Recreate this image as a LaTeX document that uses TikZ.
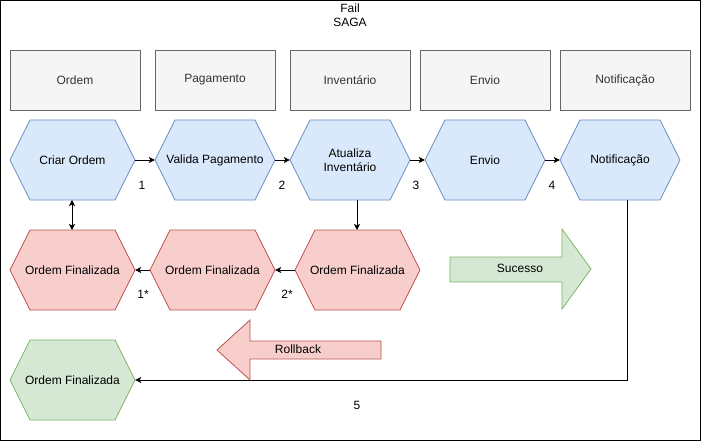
\documentclass[tikz,border=0pt]{standalone}
\usepackage{fontspec}
\setmainfont{Liberation Sans}
\usetikzlibrary{arrows.meta}
\definecolor{bluef}{HTML}{DAE8FC}
\definecolor{blued}{HTML}{6C8EBF}
\definecolor{redf}{HTML}{F8CECC}
\definecolor{redd}{HTML}{B85450}
\definecolor{greenf}{HTML}{D5E8D4}
\definecolor{greend}{HTML}{82B366}
\definecolor{grayf}{HTML}{F5F5F5}
\definecolor{grayd}{HTML}{666666}
\definecolor{grayt}{HTML}{333333}
\newcommand\hexn[7]{%
  \draw[#6] ({#2+20},#3) -- ({#4-20},#3) -- (#4,{(#3+#5)/2}) -- ({#4-20},#5) -- ({#2+20},#5) -- (#2,{(#3+#5)/2}) -- cycle;
  \node[inner sep=0pt, minimum width={(#4-#2)*1pt}, minimum height={(#5-#3)*1pt}, align=center] (#1) at ({(#2+#4)/2},{(#3+#5)/2}) {#7};
}
\tikzset{
  bluehex/.style={fill=bluef, draw=blued, line width=0.8pt},
  redhex/.style={fill=redf, draw=redd, line width=0.8pt},
  greenhex/.style={fill=greenf, draw=greend, line width=0.8pt},
  lane/.style={fill=grayf, draw=grayd, line width=0.8pt, text=grayt, inner sep=0pt},
  conn/.style={line width=0.8pt, -{Stealth[length=6pt,width=6pt,inset=1.5pt]}},
  num/.style={inner sep=0pt},
}
\begin{document}
\begin{tikzpicture}[x=1pt, y=-1pt, font=\fontsize{12}{14}\selectfont]
\useasboundingbox (0,0) rectangle (701,441);
\draw[line width=1pt] (0.5,0.5) rectangle (700,440);
\node[align=center, inner sep=0pt] (title) at (350,15) {Fail\\SAGA};
% lanes
\node[lane, minimum width=130pt, minimum height=60pt] (l1) at (75,80) {Ordem};
\node[lane, minimum width=120pt, minimum height=60pt] (l2) at (215,80) {Pagamento};
\node[lane, minimum width=120pt, minimum height=60pt] (l3) at (350,80) {Inventário};
\node[lane, minimum width=130pt, minimum height=60pt] (l4) at (485,80) {Envio};
\node[lane, minimum width=130pt, minimum height=60pt] (l5) at (625,80) {Notificação};
% row 1
\hexn{h1}{10}{120}{135}{200}{bluehex}{Criar Ordem}
\hexn{h2}{155}{120}{275}{200}{bluehex}{Valida Pagamento}
\hexn{h3}{290}{120}{410}{200}{bluehex}{Atualiza\\Inventário}
\hexn{h4}{425}{120}{545}{200}{bluehex}{Envio}
\hexn{h5}{560}{120}{680}{200}{bluehex}{Notificação}
% row 2
\hexn{r1}{10}{230}{135}{310}{redhex}{Ordem Finalizada}
\hexn{r2}{150}{230}{275}{310}{redhex}{Ordem Finalizada}
\hexn{r3}{295}{230}{420}{310}{redhex}{Ordem Finalizada}
% green
\hexn{g1}{10}{340}{135}{420}{greenhex}{Ordem Finalizada}
% connectors
\draw[conn] (h1.east) -- (h2.west);
\draw[conn] (h2.east) -- (h3.west);
\draw[conn] (h3.east) -- (h4.west);
\draw[conn] (h4.east) -- (h5.west);
\draw[conn, {Stealth[length=6pt,width=6pt,inset=1.5pt]}-{Stealth[length=6pt,width=6pt,inset=1.5pt]}] (72,200) -- (72,230);
\draw[conn] (357,200) -- (357,230);
\draw[conn] (r3.west) -- (r2.east);
\draw[conn] (r2.west) -- (r1.east);
\draw[conn] (627,200) |- (g1.east);
% numbers
\node[num] (n1) at (142,185) {1};
\node[num] (n2) at (282,185) {2};
\node[num] (n3) at (416,185) {3};
\node[num] (n4) at (552,185) {4};
\node[num] (n1s) at (143,294) {1*};
\node[num] (n2s) at (287,294) {2*};
\node[num] (n5) at (357,405) {5};
% block arrows
\draw[fill=greenf, draw=greend, line width=0.8pt] (450,257) -- (562,257) -- (562,229) -- (591,269) -- (562,309) -- (562,282) -- (450,282) -- cycle;
\node[inner sep=0pt] (suc) at (520,268) {Sucesso};
\draw[fill=redf, draw=redd, line width=0.8pt] (381,341) -- (250,341) -- (250,320) -- (217,350) -- (250,380) -- (250,359) -- (381,359) -- cycle;
\node[inner sep=0pt] (rb) at (298,349) {Rollback};
\end{tikzpicture}
\end{document}
